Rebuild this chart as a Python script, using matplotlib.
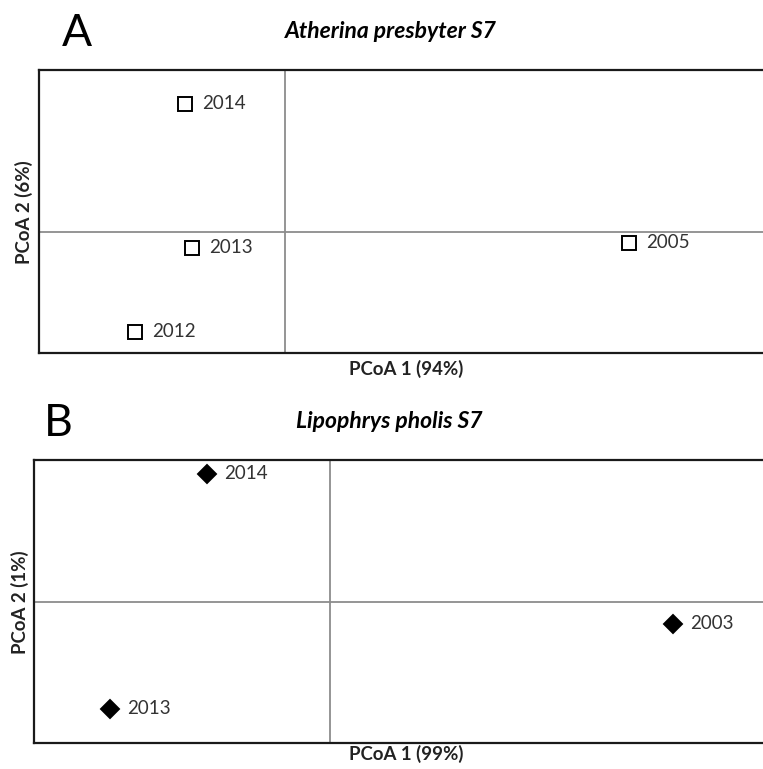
import matplotlib.pyplot as plt

plt.rcParams['font.family'] = ['Lato', 'DejaVu Sans']

# --- Panel A: Atherina presbyter S7 ---
a_years = ['2014', '2013', '2012', '2005']
a_pc1 = [-1.00, -0.93, -1.50, 3.44]
a_pc2 = [1.28, -0.16, -1.00, -0.11]

# --- Panel B: Lipophrys pholis S7 ---
b_years = ['2014', '2013', '2003']
b_pc1 = [-1.23, -2.20, 3.43]
b_pc2 = [1.28, -1.07, -0.22]

fig = plt.figure(figsize=(7.63, 7.69), dpi=100)


def pcoa_panel(ax, x, y, labels, marker, face, xlim, ylim):
    ax.axhline(0, color='#8c8c8c', lw=1.3, zorder=1)
    ax.axvline(0, color='#8c8c8c', lw=1.3, zorder=1)
    ax.plot(x, y, linestyle='none', marker=marker, markersize=10 if marker == 's' else 9,
            markerfacecolor=face, markeredgecolor='black', markeredgewidth=1.4, zorder=3)
    for xi, yi, lab in zip(x, y, labels):
        ax.annotate(lab, (xi, yi), xytext=(12, 0), textcoords='offset points',
                    va='center', ha='left', fontsize=13.5, color='#333333')
    ax.set_xlim(*xlim)
    ax.set_ylim(*ylim)
    ax.set_xticks([])
    ax.set_yticks([])
    for s in ['left', 'top', 'bottom']:
        ax.spines[s].set_linewidth(1.6)
        ax.spines[s].set_color('#1a1a1a')
    ax.spines['right'].set_visible(False)


ax1 = fig.add_axes([0.0505, 0.541, 0.959, 0.368])
pcoa_panel(ax1, a_pc1, a_pc2, a_years, 's', 'white', (-2.465, 4.85), (-1.21, 1.62))
ax2 = fig.add_axes([0.0452, 0.0338, 0.964, 0.368])
pcoa_panel(ax2, b_pc1, b_pc2, b_years, 'D', 'black', (-2.955, 4.40), (-1.413, 1.417))

# titles, panel letters, axis labels
fig.text(391 / 763, 1 - 32 / 769, 'Atherina presbyter S7', ha='center', va='center',
         fontsize=16.5, fontweight='bold', fontstyle='italic')
fig.text(389 / 763, 1 - 422 / 769, 'Lipophrys pholis S7', ha='center', va='center',
         fontsize=16.5, fontweight='bold', fontstyle='italic')
fig.text(62 / 763, 1 - 33 / 769, 'A', ha='left', va='center', fontsize=32)
fig.text(44 / 763, 1 - 423 / 769, 'B', ha='left', va='center', fontsize=32)

fig.text(406 / 763, 1 - 369 / 769, 'PCoA 1 (94%)', ha='center', va='center',
         fontsize=13.4, fontweight='bold', color='#222222')
fig.text(406 / 763, 1 - 754 / 769, 'PCoA 1 (99%)', ha='center', va='center',
         fontsize=13.4, fontweight='bold', color='#222222')
fig.text(24 / 763, 1 - 212 / 769, 'PCoA 2 (6%)', ha='center', va='center', rotation=90,
         fontsize=13.4, fontweight='bold', color='#222222')
fig.text(20 / 763, 1 - 602 / 769, 'PCoA 2 (1%)', ha='center', va='center', rotation=90,
         fontsize=13.4, fontweight='bold', color='#222222')

fig.savefig('out.png', dpi=100)
